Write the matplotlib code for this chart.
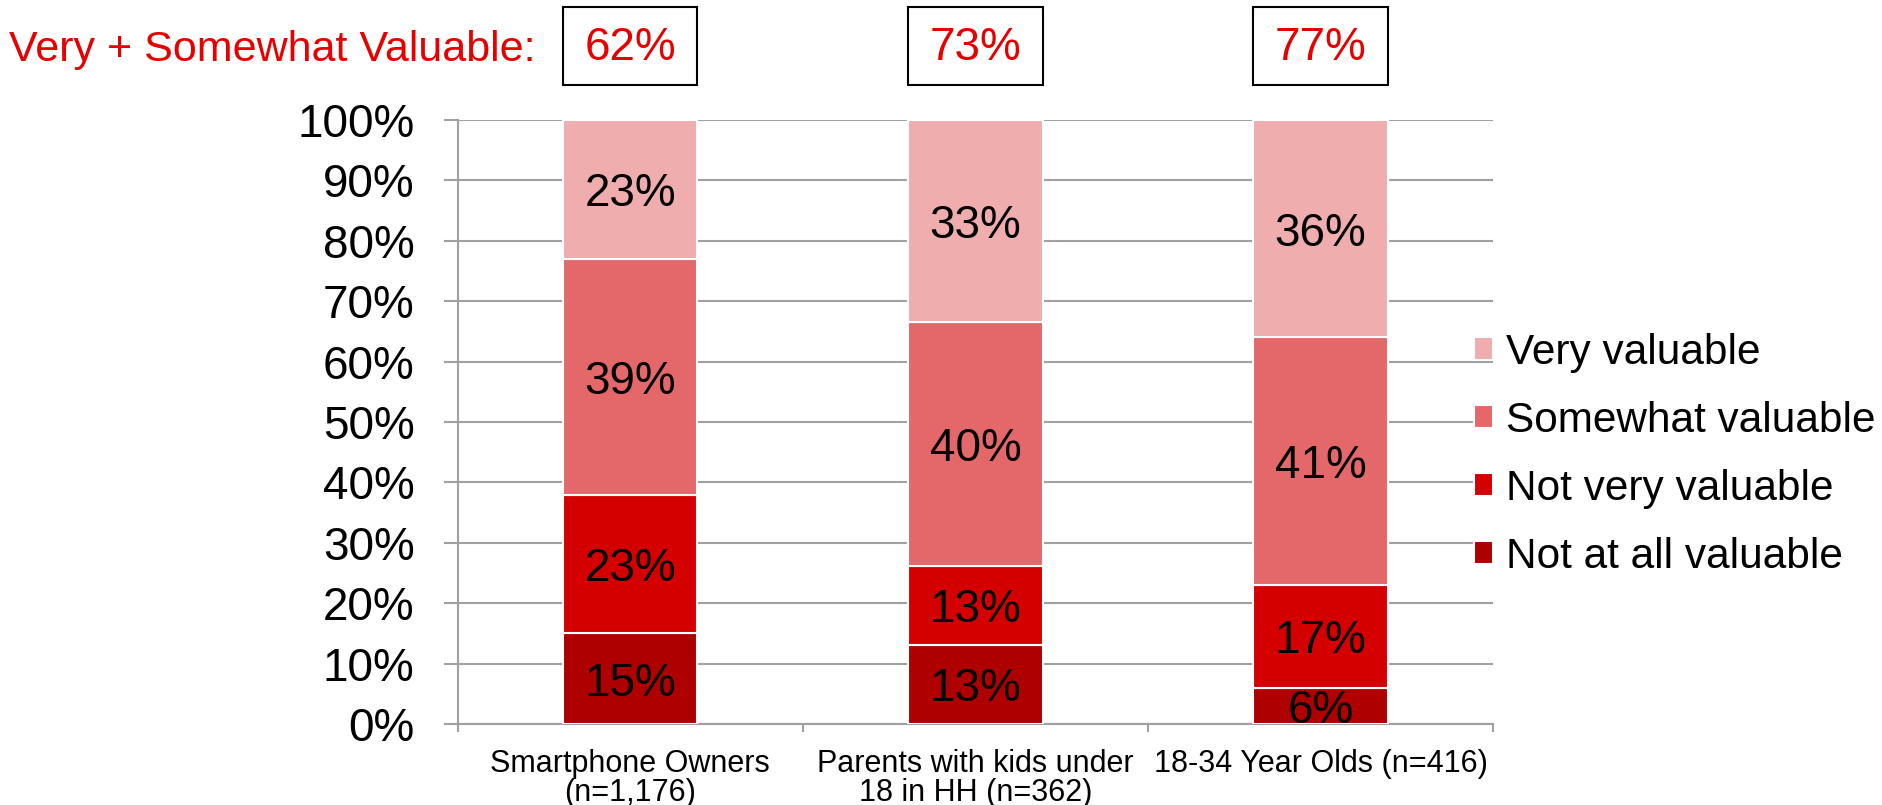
import matplotlib.pyplot as plt
import matplotlib.transforms as mtransforms
from matplotlib.patches import Rectangle

plt.rcParams['font.family'] = ['Liberation Sans', 'DejaVu Sans']

groups = ['Smartphone Owners\n(n=1,176)', 'Parents with kids under\n18 in HH (n=362)', '18-34 Year Olds (n=416)']
not_at_all = [15, 13.1, 6]
not_very = [23, 13.1, 17]
somewhat = [39, 40.4, 41]
very = [23, 33.4, 36]
very_plus_somewhat = [62, 73, 77]

series = [
    ('Not at all valuable', not_at_all, '#AE0000'),
    ('Not very valuable', not_very, '#D40000'),
    ('Somewhat valuable', somewhat, '#E4686A'),
    ('Very valuable', very, '#EFADAE'),
]

grey = '#A0A0A0'
red = '#E60000'

fig = plt.figure(figsize=(18.83, 8.05), dpi=100)
ax = fig.add_axes([0.243, 0.1006, 0.55, 0.7503])

x = list(range(len(groups)))
bottom = [0] * len(groups)
handles = []
for name, vals, col in series:
    bars = ax.bar(x, vals, 0.39, bottom=bottom, color=col, edgecolor='white',
                  linewidth=1.5, label=name, zorder=3)
    handles.append(bars)
    for xi, b, v in zip(x, bottom, vals):
        ax.text(xi, b + v / 2, f'{v:.0f}%', ha='center', va='center_baseline',
                fontsize=33, color='black', zorder=4)
    bottom = [b + v for b, v in zip(bottom, vals)]

ax.set_xlim(-0.5, 2.5)
ax.set_ylim(0, 100)
ax.set_yticks(range(0, 101, 10))
ax.set_yticklabels([f'{t}%' for t in range(0, 101, 10)], fontsize=33)
ax.set_xticks(x)
ax.set_xticklabels(groups, fontsize=22, linespacing=0.95)
ax.set_xticks([-0.5, 0.5, 1.5, 2.5], minor=True)
ax.tick_params(axis='x', which='major', length=0, pad=18)
ax.tick_params(axis='x', which='minor', length=6, width=1.5, color=grey)
ax.tick_params(axis='y', length=10, width=1.5, color=grey, pad=21)

ax.yaxis.grid(True, color=grey, linewidth=1.5, zorder=0)
ax.set_axisbelow(True)
for s in ['top', 'right']:
    ax.spines[s].set_visible(False)
for s in ['left', 'bottom']:
    ax.spines[s].set_color(grey)
    ax.spines[s].set_linewidth(1.5)

# header with boxed totals
fig.text(0.005, 0.938, 'Very + Somewhat Valuable:', color=red, fontsize=31,
         ha='left', va='center')
blend = mtransforms.blended_transform_factory(ax.transData, fig.transFigure)
for xi, v in zip(x, very_plus_somewhat):
    ax.add_patch(Rectangle((xi - 0.195, 0.894), 0.39, 0.097, transform=blend,
                           fill=False, edgecolor='black', linewidth=1.5, clip_on=False))
    ax.text(xi, 0.94, f'{v}%', transform=blend, ha='center', va='center',
            color=red, fontsize=33)

fig.legend(handles[::-1], [s[0] for s in series][::-1], loc='center left',
           bbox_to_anchor=(0.783, 0.435), frameon=False, fontsize=30.5,
           handlelength=0.45, handleheight=0.45, handletextpad=0.29,
           labelspacing=0.66, borderpad=0, borderaxespad=0)

fig.savefig('out.png', dpi=100)
